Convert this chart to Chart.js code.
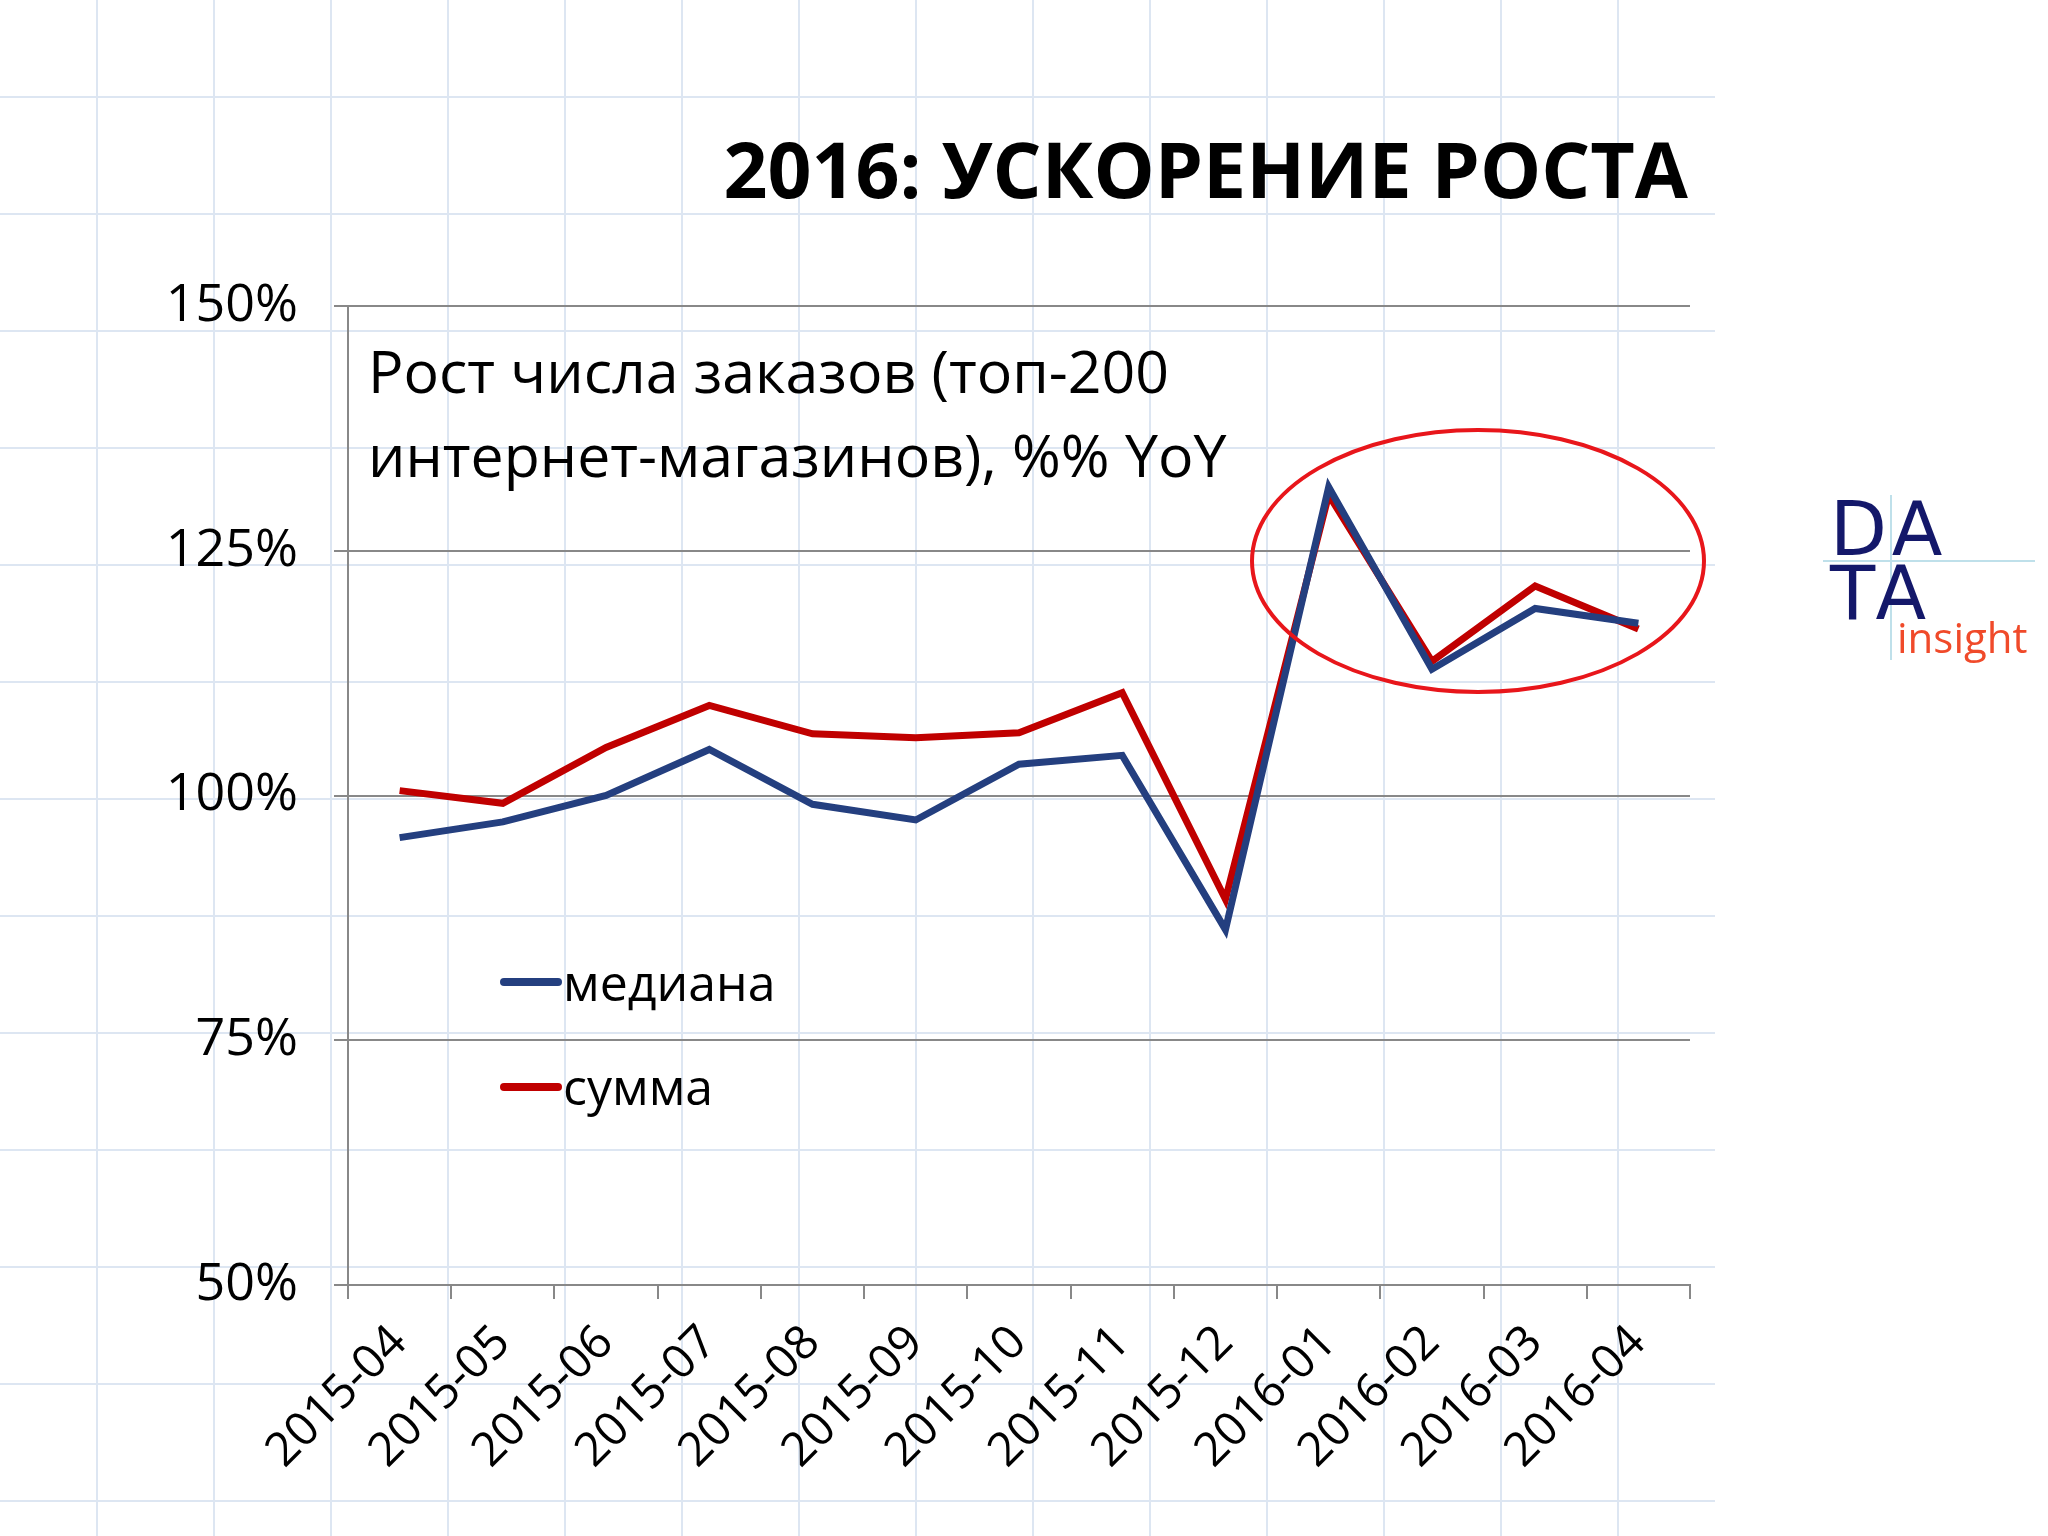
<!DOCTYPE html>
<html>
<head>
<meta charset="utf-8">
<script src="https://cdn.jsdelivr.net/npm/chart.js@4"></script>
<style>
  body { margin: 0; width: 2048px; height: 1536px; background: #fff; font-family: "Open Sans", sans-serif; overflow: hidden; }
  #bg { position: absolute; left: 0; top: 0; width: 1715px; height: 1536px;
    background-image: linear-gradient(to right, #dde6f2 2px, transparent 2px), linear-gradient(to bottom, #dde6f2 2px, transparent 2px);
    background-size: 117px 117px; background-position: 96px 96px; }
  #wrap { position: absolute; left: 0; top: 0; width: 2048px; height: 1536px; }
  .t { position: absolute; white-space: nowrap; }
</style>
</head>
<body>
<div id="bg"></div>
<div id="wrap"><canvas id="c" width="2048" height="1536"></canvas></div>
<div class="t" style="right:360px;top:116px;font-size:77px;font-weight:bold;color:#000;">2016: УСКОРЕНИЕ РОСТА</div>
<div class="t" style="left:368px;top:328px;font-size:59px;line-height:84px;color:#000;">Рост числа заказов (топ-200<br>интернет-магазинов), %% YoY</div>
<div style="position:absolute;left:500px;top:978px;width:62px;height:8px;background:#243f7f;border-radius:4px"></div>
<div class="t" style="left:563px;top:948px;font-size:50px;">медиана</div>
<div style="position:absolute;left:500px;top:1083px;width:62px;height:8px;background:#c00000;border-radius:4px"></div>
<div class="t" style="left:563px;top:1052px;font-size:50px;">сумма</div>
<div style="position:absolute;left:1823px;top:560px;width:212px;height:2px;background:#bfe0ea"></div>
<div style="position:absolute;left:1890px;top:495px;width:2px;height:165px;background:#bfe0ea"></div>
<div class="t" style="left:1830px;top:486px;font-size:74px;color:#14186a;letter-spacing:6px;font-family:'DejaVu Sans';">DA</div>
<div class="t" style="left:1830px;top:550px;font-size:74px;color:#14186a;letter-spacing:6px;font-family:'DejaVu Sans';">TA</div>
<div class="t" style="left:1897px;top:608px;font-size:42px;color:#f04a2a;">insight</div>
<script>
const months = ['2015-04','2015-05','2015-06','2015-07','2015-08','2015-09','2015-10','2015-11','2015-12','2016-01','2016-02','2016-03','2016-04'];
const median = [95.7, 97.3, 100, 104.7, 99.1, 97.5, 103.2, 104.1, 86.3, 131.5, 112.9, 119.1, 117.6];
const total = [100.5, 99.2, 104.9, 109.2, 106.3, 105.9, 106.4, 110.5, 89.4, 130.7, 113.7, 121.4, 117.0];
const yTicks = [50, 75, 100, 125, 150];

const ellipse = {
  id: 'ellipse',
  afterDraw(chart) {
    const ctx = chart.ctx;
    ctx.save();
    ctx.strokeStyle = '#e8161b';
    ctx.lineWidth = 4;
    ctx.beginPath();
    ctx.ellipse(1478, 561, 226, 131, 0, 0, Math.PI * 2);
    ctx.stroke();
    ctx.restore();
  }
};

new Chart(document.getElementById('c'), {
  type: 'line',
  data: {
    labels: months,
    datasets: [
      { label: 'медиана', data: median, borderColor: '#243f7f', borderWidth: 7, pointRadius: 0, tension: 0 },
      { label: 'сумма', data: total, borderColor: '#c00000', borderWidth: 7, pointRadius: 0, tension: 0 }
    ]
  },
  options: {
    responsive: false,
    animation: false,
    layout: { padding: { top: 306, right: 358, left: 0, bottom: 0 } },
    plugins: { legend: { display: false }, tooltip: { enabled: false } },
    scales: {
      x: {
        offset: true,
        afterFit(s) { s.height = 251; },
        grid: { display: true, drawOnChartArea: false, offset: true, tickLength: 14, color: '#888', lineWidth: 2 },
        border: { color: '#888', width: 2 },
        ticks: { maxRotation: 45, minRotation: 45, color: '#000', font: { family: 'Open Sans', size: 47 }, padding: 16 }
      },
      y: {
        min: 50, max: 150,
        afterFit(s) { s.width = 348; },
        afterBuildTicks(s) { s.ticks = yTicks.map(v => ({ value: v })); },
        grid: { color: '#888', lineWidth: 2, tickLength: 14 },
        border: { color: '#888', width: 2 },
        ticks: { color: '#000', font: { family: 'Open Sans', size: 52 }, padding: 36, callback: v => v + '%' }
      }
    }
  },
  plugins: [ellipse]
});
</script>
</body>
</html>
